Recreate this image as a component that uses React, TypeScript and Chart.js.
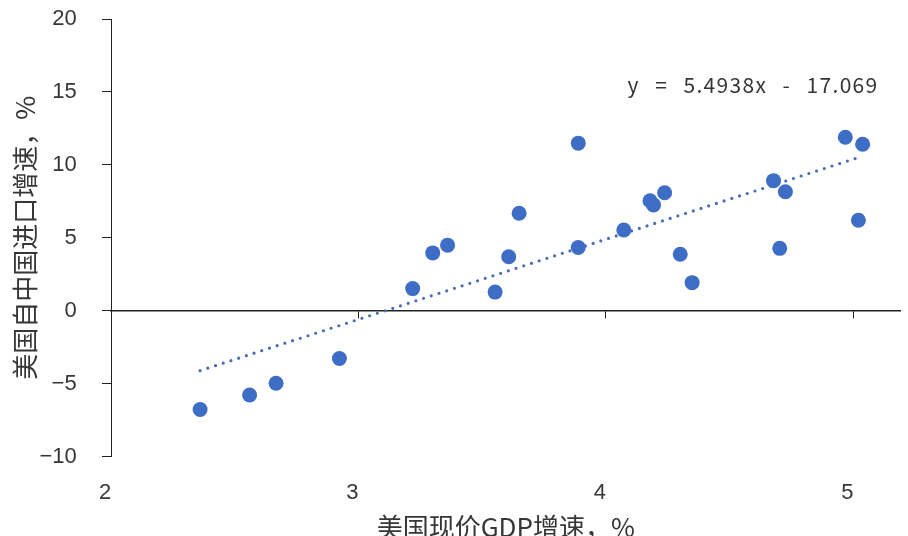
import React, { useEffect, useRef } from 'react';
import { Chart, registerables } from 'chart.js';

Chart.register(...registerables);

// US nominal GDP growth, %  (x)
const gdpGrowth = [
  2.36, 2.56, 2.667, 2.923, 3.219, 3.3, 3.36, 3.552, 3.607, 3.649, 3.888, 3.888,
  4.072, 4.178, 4.192, 4.237, 4.3, 4.348, 4.677, 4.725, 4.702, 4.967, 5.037, 5.02,
];
// US import growth from China, %  (y)
const importGrowth = [
  -6.76, -5.77, -4.97, -3.27, 1.52, 3.97, 4.5, 1.28, 3.7, 6.69, 11.49, 4.34,
  5.54, 7.54, 7.26, 8.09, 3.88, 1.93, 8.92, 8.16, 4.28, 11.9, 11.42, 6.21,
];

const xTicks = [2, 3, 4, 5];
const yTicks = [-10, -5, 0, 5, 10, 15, 20];

const trendSlope = 5.4938;
const trendIntercept = -17.069;
const trendLabel = 'y = 5.4938x - 17.069';

const xTitle = '美国现价GDP增速，%';
const yTitle = '美国自中国进口增速，%';

const TEXT = '#363636';
const AXIS = '#222222';
const POINT = '#3E6DC6';
const TREND = '#4a6cb3';

const fmt = (v: number) => String(v).replace('-', '\u2212');

export default function App() {
  const ref = useRef<HTMLCanvasElement | null>(null);

  useEffect(() => {
    document.body.style.margin = '0';
    const canvas = ref.current;
    if (!canvas) return;

    const points = gdpGrowth.map((x, i) => ({ x, y: importGrowth[i] }));
    const xMin = Math.min(...gdpGrowth);
    const xMax = Math.max(...gdpGrowth);
    const trend = [xMin, xMax].map((x) => ({ x, y: trendSlope * x + trendIntercept }));

    const eqPlugin = {
      id: 'eqLabel',
      afterDatasetsDraw(chart: any) {
        const { ctx, scales } = chart;
        ctx.save();
        ctx.font = '21px "Noto Sans CJK SC", sans-serif';
        ctx.fillStyle = TEXT;
        ctx.textAlign = 'left';
        ctx.textBaseline = 'middle';
        const letter = 1.3;
        const natural = ctx.measureText(trendLabel).width + letter * trendLabel.length;
        const spaces = trendLabel.split(' ').length - 1;
        const extra = Math.max(0, (251 - natural) / spaces);
        (ctx as any).letterSpacing = letter + 'px';
        (ctx as any).wordSpacing = extra + 'px';
        ctx.fillText(trendLabel, scales.x.getPixelForValue(4.087), scales.y.getPixelForValue(15.48));
        ctx.restore();
      },
    };

    const tickFont = { family: '"Liberation Sans", Arial, sans-serif', size: 22 };
    const titleFont = { family: '"Noto Sans CJK SC", sans-serif', size: 26, lineHeight: 1 };

    const chart = new Chart(canvas, {
      type: 'scatter',
      data: {
        datasets: [
          {
            label: 'points',
            data: points,
            xAxisID: 'x',
            yAxisID: 'y',
            backgroundColor: POINT,
            borderColor: POINT,
            borderWidth: 0,
            pointRadius: 7.5,
            order: 1,
          },
          {
            label: 'trend',
            data: trend,
            xAxisID: 'x',
            yAxisID: 'y',
            showLine: true,
            pointRadius: 0,
            borderColor: TREND,
            borderWidth: 3.2,
            borderDash: [0, 8.1],
            borderCapStyle: 'round',
            order: 2,
          } as any,
        ],
      },
      options: {
        animation: false,
        responsive: false,
        events: [],
        layout: { padding: { top: 19, left: 0, right: 0, bottom: 0 } },
        plugins: {
          legend: { display: false },
          tooltip: { enabled: false },
        },
        scales: {
          x: {
            type: 'linear',
            position: 'bottom',
            min: 2,
            max: 5.19,
            afterBuildTicks: (s: any) => {
              s.ticks = xTicks.map((v) => ({ value: v }));
            },
            afterFit: (s: any) => {
              s.height = 79.3;
              s.paddingLeft = 0;
              s.paddingRight = 0;
            },
            grid: { display: false },
            border: { display: false },
            ticks: {
              font: tickFont,
              color: TEXT,
              padding: 15,
              labelOffset: -6,
              maxRotation: 0,
              callback: (v: any) => fmt(v),
            },
            title: {
              display: true,
              text: xTitle,
              font: titleFont,
              color: TEXT,
              padding: { top: 0, bottom: -4 },
            },
          },
          x2: {
            type: 'linear',
            axis: 'x',
            position: { y: 0 },
            min: 2,
            max: 5.19,
            afterBuildTicks: (s: any) => {
              s.ticks = xTicks.map((v) => ({ value: v }));
            },
            afterFit: (s: any) => {
              s.paddingLeft = 0;
              s.paddingRight = 0;
            },
            ticks: { display: false },
            grid: { display: true, drawOnChartArea: false, drawTicks: true, tickLength: 7, color: AXIS, lineWidth: 1 },
            border: { display: true, color: AXIS, width: 1.4 },
          } as any,
          y: {
            type: 'linear',
            position: 'left',
            min: -10,
            max: 20,
            afterBuildTicks: (s: any) => {
              s.ticks = yTicks.map((v) => ({ value: v }));
            },
            afterFit: (s: any) => {
              s.width = 111;
              s.paddingTop = 0;
              s.paddingBottom = 0;
            },
            grid: { drawOnChartArea: false, drawTicks: true, tickLength: 9, color: AXIS, lineWidth: 1 },
            border: { display: true, color: AXIS, width: 1 },
            ticks: { font: tickFont, color: TEXT, padding: 25.3, callback: (v: any) => fmt(v) },
            title: {
              display: true,
              text: yTitle,
              font: titleFont,
              color: TEXT,
              padding: { top: 12, bottom: 0 },
            },
          },
        },
      },
      plugins: [eqPlugin],
    });

    return () => chart.destroy();
  }, []);

  return (
    <div style={{ position: 'fixed', left: 0, top: 0, width: 908, height: 536, background: '#fff' }}>
      <canvas ref={ref} width={908} height={536} />
    </div>
  );
}
